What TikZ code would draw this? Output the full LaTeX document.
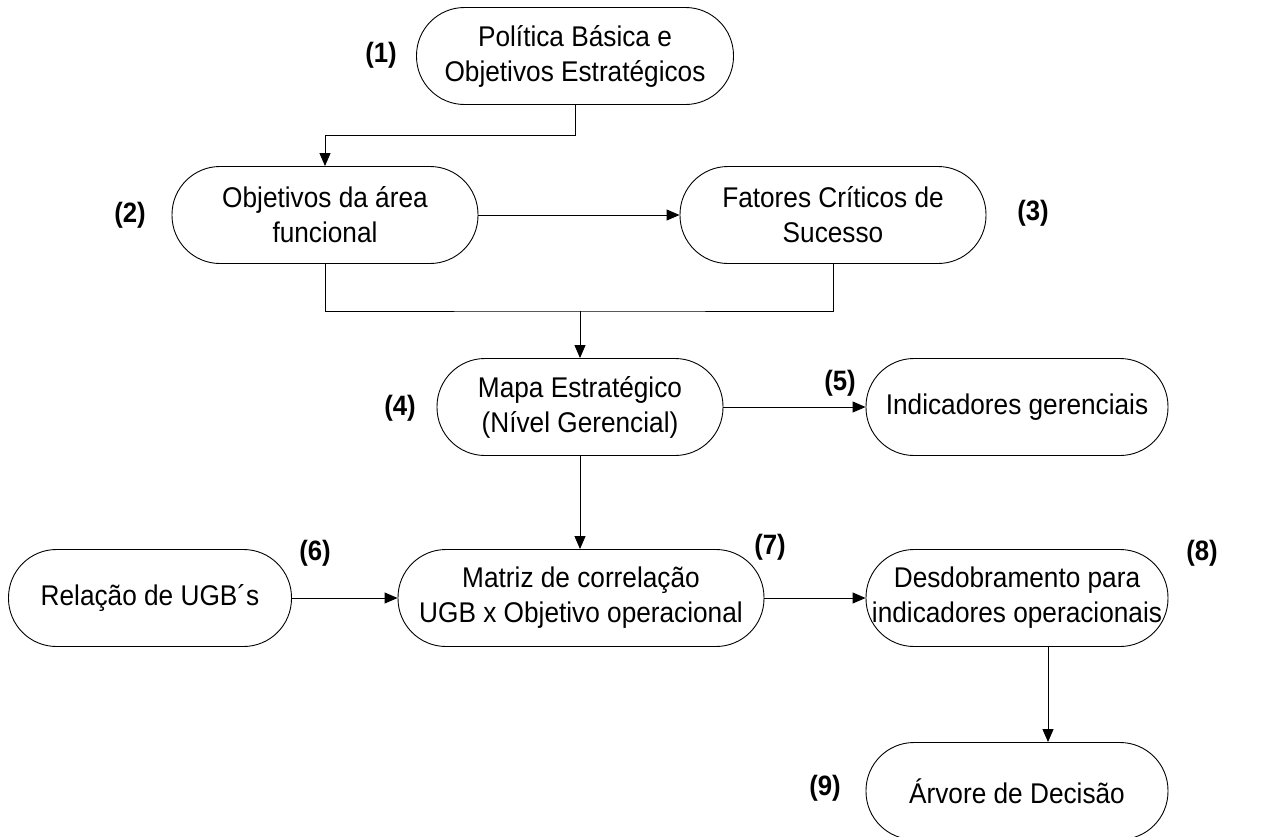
\documentclass[tikz,border=0pt]{standalone}
\usepackage{fontspec}
\setmainfont{Liberation Sans}[FakeStretch=0.92]
\usetikzlibrary{arrows.meta,calc}

\tikzset{
  etapa/.style={draw, line width=0.9pt, rounded corners=48pt, minimum height=97pt, inner sep=0pt, align=center, font=\fontsize{28.5}{35}\selectfont},
  rotulo/.style={inner sep=0pt, font=\fontsize{28}{30}\selectfont\bfseries},
  seta/.style={line width=0.9pt, -{Triangle[length=13pt,width=11pt]}},
  liga/.style={line width=0.9pt}
}

\begin{document}
\begin{tikzpicture}[x=1pt,y=1pt,yscale=-1,xscale=1]
\useasboundingbox (0,0) rectangle (1264,836);

% Shapes
\node [etapa, minimum width=317pt] (n1) at (575,56) {Política Básica e\\Objetivos Estratégicos};
\node [etapa, minimum width=306pt] (n2) at (325,215) {Objetivos da área\\funcional};
\node [etapa, minimum width=306pt] (n3) at (833,215) {Fatores Críticos de\\Sucesso};
\node [etapa, minimum width=286pt] (n4) at (580,407) {Mapa Estratégico\\(Nível Gerencial)};
\node [etapa, minimum width=302pt] (n5) at (1017,407) {Indicadores gerenciais};
\node [etapa, minimum width=283pt] (n6) at (150,598) {Relação de UGB´s};
\node [etapa, minimum width=366pt] (n7) at (581,598) {Matriz de correlação\\UGB x Objetivo operacional};
\node [etapa, minimum width=302pt] (n8) at (1017,598) {Desdobramento para\\indicadores operacionais};
\node [etapa, minimum width=302pt] (n9) at (1017,791) {Árvore de Decisão};

% Connectors
\draw [seta] (n1.south) -- ++(0,30) -| (n2.north);
\draw [seta] (n2.east) -- (n3.west);
\coordinate (j4) at (n4.north |- 0,311);
\draw [liga] (n2.south) |- (j4) -| (n3.south);
\draw [seta] (j4) -- (n4.north);
\draw [seta] (n4.east) -- (n5.west);
\draw [seta] (n4.south) -- (n4.south |- n7.north);
\draw [seta] (n6.east) -- (n7.west);
\draw [seta] (n7.east) -- (n8.west);
\draw [seta] ($(n8.south)+(31,0)$) -- ($(n9.north)+(31,0)$);

% Text Node
\node [rotulo] (r1) at (381,55) {(1)};
\node [rotulo] (r2) at (130,215) {(2)};
\node [rotulo] (r3) at (1033,213) {(3)};
\node [rotulo] (r4) at (400,408) {(4)};
\node [rotulo] (r5) at (840,383) {(5)};
\node [rotulo] (r6) at (315,553) {(6)};
\node [rotulo] (r7) at (770,547) {(7)};
\node [rotulo] (r8) at (1202,553) {(8)};
\node [rotulo] (r9) at (825,788) {(9)};

\end{tikzpicture}
\end{document}
